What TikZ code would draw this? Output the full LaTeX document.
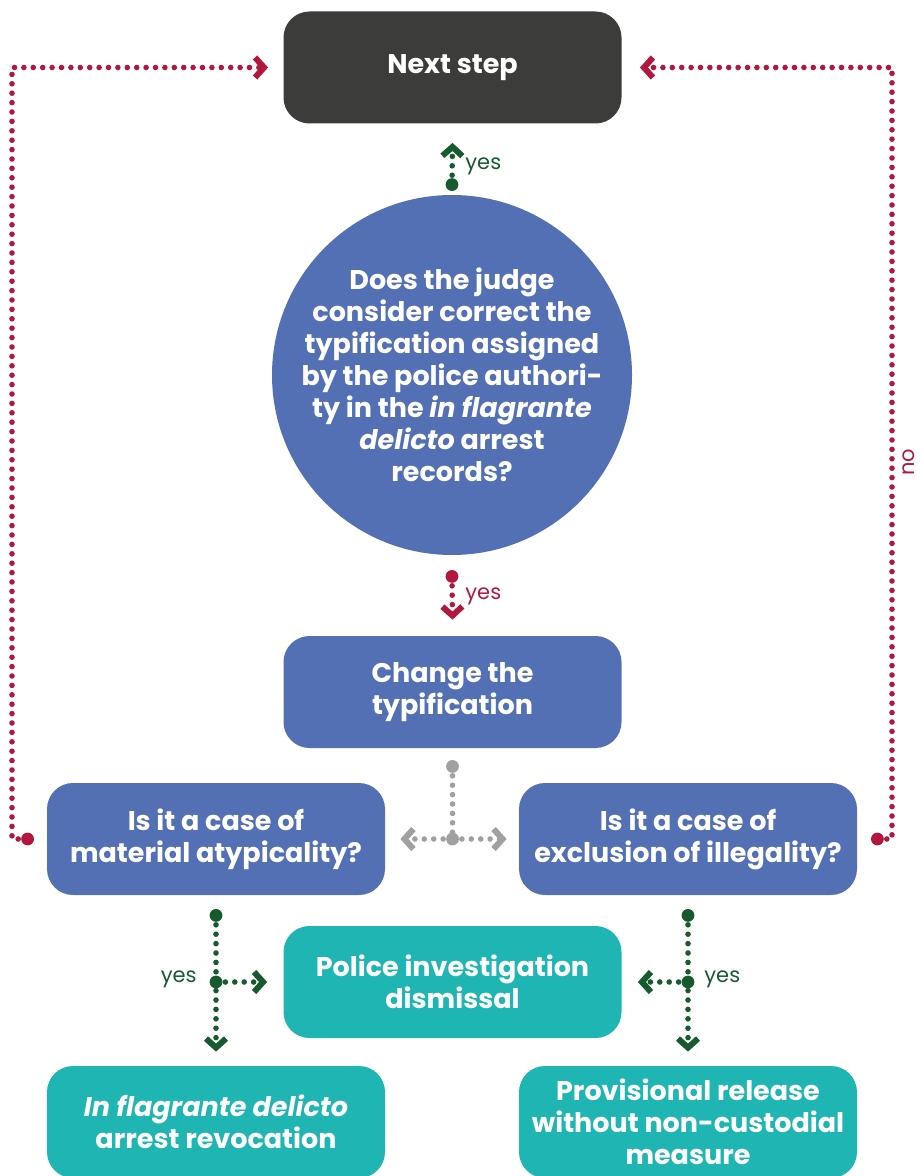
\documentclass[tikz,border=0pt]{standalone}
\usepackage{fontspec}
\setmainfont{Poppins}
\usetikzlibrary{arrows.meta,positioning}

\definecolor{stepgray}{RGB}{60,60,59}
\definecolor{flowblue}{RGB}{84,112,180}
\definecolor{flowteal}{RGB}{31,181,179}
\definecolor{nored}{RGB}{177,24,63}
\definecolor{yesgreen}{RGB}{22,90,46}
\definecolor{linegray}{RGB}{160,160,160}

\tikzstyle{flow box}=[rounded corners=13pt, fill=#1, minimum width=169pt, minimum height=56pt, text=white, align=center, inner sep=2pt, font=\bfseries\fontsize{13.5}{16}\selectfont]
\tikzstyle{dots}=[draw=#1, line width=2.8pt, line cap=round, dash pattern=on 0pt off 4.7pt]
\tikzstyle{chev}=[-{Straight Barb[length=4.5pt, width=10pt, line width=3pt]}]
\tikzstyle{answer}=[text=#1, font=\fontsize{10.5}{12}\selectfont, inner sep=1pt]

\begin{document}
\begin{tikzpicture}[x=0.5pt, y=-0.5pt]
		\useasboundingbox (0,0) rectangle (921,1176);

		\node [flow box = stepgray] (next) at (452.5,67.5) {Next step};
		\node [circle, fill=flowblue, minimum size=180pt, inner sep=-10pt, text=white, align=center, font=\bfseries\fontsize{13.5}{16}\selectfont] (judge) at (452,375)
			{Does the judge\\ consider correct the\\ typification assigned\\ by the police authori-\\ ty in the \textit{in flagrante}\\ \textit{delicto} arrest\\ records?};
		\node [flow box = flowblue] (change) at (452.5,692) {Change the\\ typification};
		\node [flow box = flowblue] (atyp) at (216,839) {Is it a case of\\ material atypicality?};
		\node [flow box = flowblue] (excl) at (688,839) {Is it a case of\\ exclusion of illegality?};
		\node [flow box = flowteal] (dismiss) at (452.5,982) {Police investigation\\ dismissal};
		\node [flow box = flowteal] (revoke) at (216,1122) {\textit{In flagrante delicto}\\ arrest revocation};
		\node [flow box = flowteal] (release) at (688,1122) {Provisional release\\ without non-custodial\\ measure};

		% yes / no from the question
		\coordinate (up start) at ([yshift=5pt]judge.north);
		\coordinate (up end) at ([yshift=-9.5pt]next.south);
		\draw [dots = yesgreen, chev, yesgreen] (up start) -- (up end);
		\fill [yesgreen] (up start) circle (3.2pt);
		\node [answer = yesgreen, anchor=west] at (463,166) {yes};

		\coordinate (down start) at ([yshift=-10.5pt]judge.south);
		\coordinate (down end) at ([yshift=8pt]change.north);
		\draw [dots = nored, chev, nored] (down start) -- (down end);
		\fill [nored] (down start) circle (3.2pt);
		\node [answer = nored, anchor=west] at (463,596) {yes};

		% back to the next step
		\coordinate (left start) at ([xshift=-9.5pt]atyp.west);
		\coordinate (left end) at ([xshift=-7.5pt]next.west);
		\draw [dots = nored, chev, nored] (left start) -- (12,839) |- (left end);
		\fill [nored] (left start) circle (3.2pt);
		\coordinate (right start) at ([xshift=10pt]excl.east);
		\coordinate (right end) at ([xshift=9pt]next.east);
		\draw [dots = nored, chev, nored] (right start) -- (892,839) |- (right end);
		\fill [nored] (right start) circle (3.2pt);
		\node [answer = nored, rotate=90] at (909,462) {no};

		% after the change
		\coordinate (split start) at ([yshift=-9pt]change.south);
		\coordinate (split) at (change.south |- atyp.east);
		\draw [dots = linegray] (split start) -- (split);
		\draw [dots = linegray, chev, linegray] (split) -- ([xshift=7.5pt]atyp.east);
		\draw [dots = linegray, chev, linegray] (split) -- ([xshift=-6pt]excl.west);
		\fill [linegray] (split start) circle (3.2pt) (split) circle (3.2pt);

		% outcomes
		\coordinate (atyp start) at ([yshift=-10pt]atyp.south);
		\coordinate (atyp split) at (atyp.south |- dismiss.west);
		\draw [dots = yesgreen, chev, yesgreen] (atyp start) -- ([yshift=7pt]revoke.north);
		\draw [dots = yesgreen, chev, yesgreen] (atyp split) -- ([xshift=-8pt]dismiss.west);
		\fill [yesgreen] (atyp start) circle (3.2pt) (atyp split) circle (3.2pt);
		\node [answer = yesgreen, anchor=east] at (199,979) {yes};

		\coordinate (excl start) at ([yshift=-10pt]excl.south);
		\coordinate (excl split) at (excl.south |- dismiss.east);
		\draw [dots = yesgreen, chev, yesgreen] (excl start) -- ([yshift=7pt]release.north);
		\draw [dots = yesgreen, chev, yesgreen] (excl split) -- ([xshift=8pt]dismiss.east);
		\fill [yesgreen] (excl start) circle (3.2pt) (excl split) circle (3.2pt);
		\node [answer = yesgreen, anchor=west] at (702,979) {yes};
	\end{tikzpicture}
\end{document}
